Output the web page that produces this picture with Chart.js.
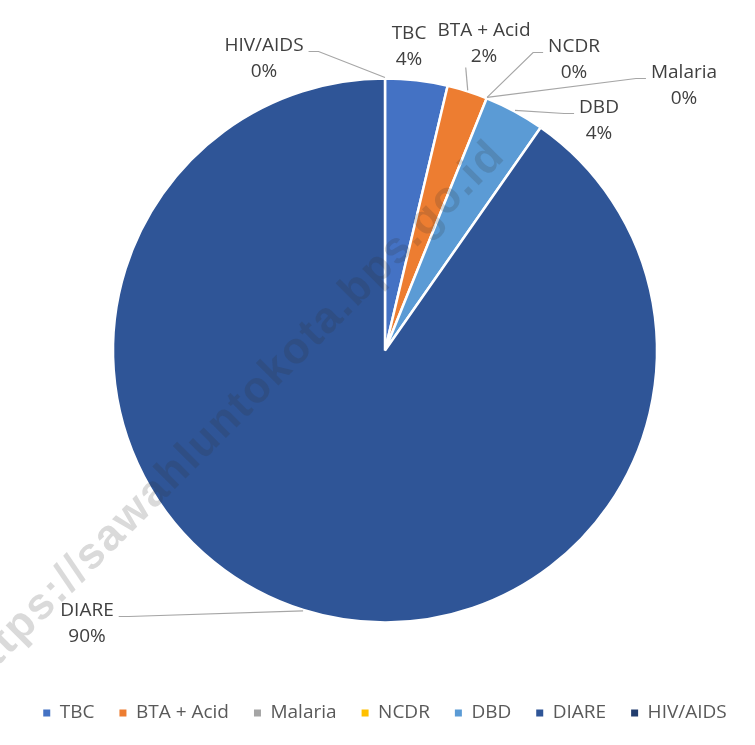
<!DOCTYPE html>
<html>
<head>
<meta charset="utf-8">
<script src="https://cdn.jsdelivr.net/npm/chart.js@4.4.1/dist/chart.umd.min.js"></script>
<style>
  html, body { margin: 0; padding: 0; background: #ffffff; }
  #wrap { width: 755px; height: 745px; }
</style>
</head>
<body>
<div id="wrap"><canvas id="c" width="755" height="745"></canvas></div>
<script>
// ---- data ----
const categories = ['TBC', 'BTA + Acid', 'Malaria', 'NCDR', 'DBD', 'DIARE', 'HIV/AIDS'];
const values = [3.7, 2.4, 0, 0, 3.6, 90.3, 0];
const colors = ['#4472C4', '#ED7D31', '#A5A5A5', '#FFC000', '#5B9BD5', '#2F5597', '#223D6E'];
const watermarkText = 'https://sawahluntokota.bps.go.id';

// ---- label layout (offsets from pie centre, px) ----
const labelLayout = [
  { dx: 24,   dy: -304, side: 'none' },
  { dx: 99,   dy: -307, side: 'bottom' },
  { dx: 299,  dy: -265, side: 'left' },
  { dx: 189,  dy: -291, side: 'left' },
  { dx: 214,  dy: -230, side: 'left' },
  { dx: -298, dy: 273,  side: 'right' },
  { dx: -121, dy: -292, side: 'right' }
];

const LABEL_FONT = '19px "Open Sans"';

const labelPlugin = {
  id: 'pieLabels',
  afterDatasetsDraw(chart) {
    const ctx = chart.ctx;
    const meta = chart.getDatasetMeta(0);
    const ds = chart.data.datasets[0].data;
    const total = ds.reduce((a, b) => a + b, 0);
    ctx.save();
    ctx.font = LABEL_FONT;
    meta.data.forEach((arc, i) => {
      const p = arc.getProps(['x', 'y', 'startAngle', 'endAngle', 'outerRadius'], true);
      const mid = (p.startAngle + p.endAngle) / 2;
      const ax = p.x + Math.cos(mid) * (p.outerRadius + 1);
      const ay = p.y + Math.sin(mid) * (p.outerRadius + 1);
      const L = labelLayout[i];
      const cx = p.x + L.dx, cy = p.y + L.dy;
      const name = chart.data.labels[i];
      const pct = Math.round(ds[i] / total * 100) + '%';
      const w = ctx.measureText(name).width;
      // leader line
      ctx.strokeStyle = '#A6A6A6';
      ctx.lineWidth = 1.2;
      ctx.beginPath();
      if (L.side === 'right') {
        const sx = cx + w / 2 + 5, sy = cy - 13 + 6;
        ctx.moveTo(sx, sy); ctx.lineTo(sx + 10, sy); ctx.lineTo(ax, ay);
        ctx.stroke();
      } else if (L.side === 'left') {
        const sx = cx - w / 2 - 5, sy = cy - 13 + 6;
        ctx.moveTo(sx, sy); ctx.lineTo(sx - 10, sy); ctx.lineTo(ax, ay);
        ctx.stroke();
      } else if (L.side === 'bottom') {
        ctx.moveTo(ax - 2, cy + 24); ctx.lineTo(ax, ay);
        ctx.stroke();
      }
      ctx.fillStyle = '#404040';
      ctx.textAlign = 'center';
      ctx.textBaseline = 'middle';
      ctx.fillText(name, cx, cy - 13);
      ctx.fillText(pct, cx, cy + 13);
    });
    ctx.restore();
  },
  afterDraw(chart) {
    const ctx = chart.ctx;
    ctx.save();
    ctx.translate(-24, 688);
    ctx.rotate(-Math.PI / 4);
    ctx.font = 'bold 44px "Liberation Sans"';
    try { ctx.letterSpacing = '2px'; } catch (e) {}
    ctx.fillStyle = 'rgba(50,50,50,0.18)';
    ctx.textAlign = 'left';
    ctx.textBaseline = 'alphabetic';
    ctx.fillText(watermarkText, 0, 0);
    ctx.restore();
  }
};

function build() {
  new Chart(document.getElementById('c'), {
    type: 'pie',
    data: {
      labels: categories,
      datasets: [{
        data: values,
        backgroundColor: colors,
        borderColor: '#ffffff',
        borderWidth: 2.5
      }]
    },
    options: {
      responsive: false,
      animation: false,
      events: [],
      radius: 272,
      layout: { padding: { top: 22.5, bottom: 12.5, left: 15, right: 0 } },
      plugins: {
        tooltip: { enabled: false },
        legend: {
          position: 'bottom',
          labels: {
            boxWidth: 7,
            boxHeight: 7,
            padding: 25,
            color: '#595959',
            font: { family: 'Open Sans', size: 19 },
            generateLabels(chart) {
              const items = Chart.overrides.pie.plugins.legend.labels.generateLabels(chart);
              return items.map(it => Object.assign(it, { lineWidth: 0, strokeStyle: 'rgba(0,0,0,0)' }));
            }
          }
        }
      }
    },
    plugins: [labelPlugin]
  });
}

if (document.fonts && document.fonts.load) {
  Promise.all([
    document.fonts.load('19px "Open Sans"'),
    document.fonts.load('bold 44px "Liberation Sans"')
  ]).then(build, build);
} else {
  build();
}
</script>
</body>
</html>
